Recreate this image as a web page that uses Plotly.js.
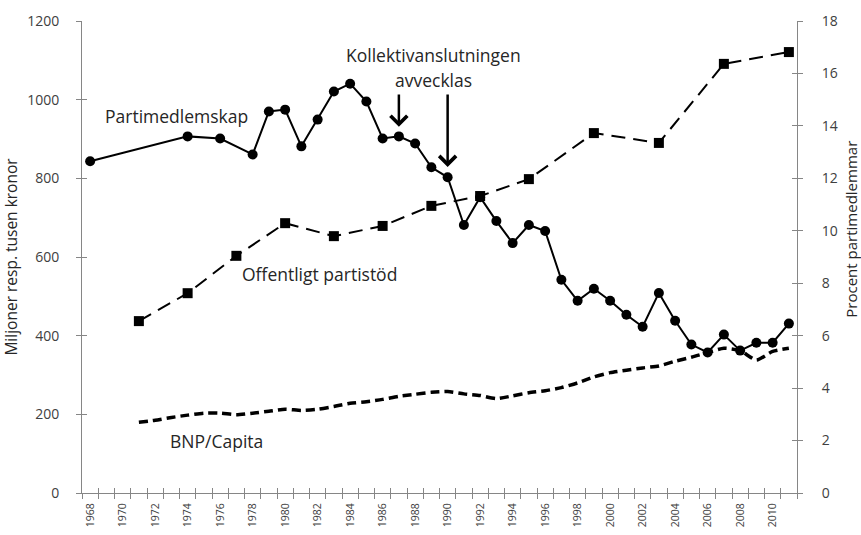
<!DOCTYPE html>
<html>
<head>
<meta charset="utf-8">
<script src="https://cdn.plot.ly/plotly-3.0.1.min.js"></script>
<style>html,body{margin:0;padding:0;background:#fff;}#chart{width:861px;height:535px;}</style>
</head>
<body>
<div id="chart"></div>
<script>
// Partimedlemskap (procent, höger axel)
const memberYears = [1968,1974,1976,1978,1979,1980,1981,1982,1983,1984,1985,1986,1987,1988,1989,1990,1991,1992,1993,1994,1995,1996,1997,1998,1999,2000,2001,2002,2003,2004,2005,2006,2007,2008,2009,2010,2011];
const memberPct = [12.65,13.6,13.52,12.91,14.55,14.62,13.22,14.24,15.31,15.61,14.93,13.52,13.6,13.33,12.42,12.04,10.22,11.28,10.37,9.53,10.22,9.99,8.13,7.33,7.79,7.33,6.8,6.34,7.63,6.57,5.66,5.36,6.04,5.43,5.73,5.73,6.46];

// Offentligt partistöd (miljoner kronor, vänster axel)
const supportYears = [1971,1974,1977,1980,1983,1986,1989,1992,1995,1999,2003,2007,2011];
const supportVals = [437,508,603,686,653,679,730,755,798,915,890,1091,1121];

// BNP/Capita (tusen kronor, vänster axel)
const gdpYears = [1971,1972,1973,1974,1975,1976,1977,1978,1979,1980,1981,1982,1983,1984,1985,1986,1987,1988,1989,1990,1991,1992,1993,1994,1995,1996,1997,1998,1999,2000,2001,2002,2003,2004,2005,2006,2007,2008,2009,2010,2011];
const gdpVals = [180,185,192,198,203,203,199,203,208,213,210,213,220,228,232,238,246,251,256,258,252,248,240,247,255,260,268,280,295,306,312,318,323,335,345,357,368,362,338,360,368];

// Axis ticks
const labelYears = [1968,1970,1972,1974,1976,1978,1980,1982,1984,1986,1988,1990,1992,1994,1996,1998,2000,2002,2004,2006,2008,2010];
const leftTicks = [0,200,400,600,800,1000,1200];
const rightTicks = [0,2,4,6,8,10,12,14,16,18];
const firstYear = 1968, lastYear = 2011;
const boundaries = [];
for (let y = firstYear; y <= lastYear + 1; y++) boundaries.push(y - 0.5);

const axisColor = '#868686';
const tickFont = {family: 'Open Sans, sans-serif', size: 14, color: '#404040'};
const txtFont = {family: 'Open Sans, sans-serif', size: 17.5, color: '#262626'};

const traces = [
  {x: gdpYears, y: gdpVals, yaxis: 'y', mode: 'lines', name: 'BNP/Capita',
   line: {color: '#000', width: 3.5, dash: '9px,5px', shape: 'spline', smoothing: 0.6}},
  {x: supportYears, y: supportVals, yaxis: 'y', mode: 'lines+markers', name: 'Offentligt partistöd',
   line: {color: '#000', width: 2, dash: '14px,8px'}, marker: {symbol: 'square', size: 10, color: '#000'}},
  {x: memberYears, y: memberPct, yaxis: 'y2', mode: 'lines+markers', name: 'Partimedlemskap',
   line: {color: '#000', width: 2}, marker: {symbol: 'circle', size: 10, color: '#000'}},
  {x: [null], y: [null], xaxis: 'x2', yaxis: 'y3', showlegend: false, hoverinfo: 'skip'},
  {x: [null], y: [null], xaxis: 'x2', yaxis: 'y4', showlegend: false, hoverinfo: 'skip'}
];

const xr = [firstYear - 0.5, lastYear + 0.5];

const layout = {
  width: 861, height: 535,
  margin: {l: 82, r: 64, t: 21, b: 42},
  paper_bgcolor: '#fff', plot_bgcolor: '#fff',
  showlegend: false,
  xaxis: {range: xr, tickvals: labelYears, ticktext: labelYears.map(String), tickangle: -90,
    ticks: 'outside', ticklen: 0, tickfont: {family: 'Open Sans, sans-serif', size: 10.5, color: '#404040'},
    showgrid: false, zeroline: false, showline: true, linecolor: axisColor, linewidth: 1,
    minor: {tickvals: boundaries, ticks: 'outside', ticklen: 5, tickcolor: axisColor, tickwidth: 1, showgrid: false},
    ticklabelstandoff: 5},
  xaxis2: {range: xr, overlaying: 'x', anchor: 'y3', tickvals: boundaries, ticks: 'inside', ticklen: 5,
    tickcolor: axisColor, showticklabels: false, showgrid: false, zeroline: false, showline: false},
  yaxis: {range: [0, 1200], tickvals: leftTicks, ticks: 'outside', ticklen: 5,
    tickcolor: axisColor, tickfont: tickFont, showgrid: false, zeroline: false, showline: true,
    linecolor: axisColor, ticklabelstandoff: 14,
    title: {text: 'Miljoner resp. tusen kronor', font: {family: 'Open Sans, sans-serif', size: 15.5, color: '#262626'}, standoff: 5}},
  yaxis2: {range: [0, 18], tickvals: rightTicks, overlaying: 'y', side: 'right', anchor: 'x',
    ticks: 'outside', ticklen: 5, tickcolor: axisColor, tickfont: tickFont, showgrid: false, zeroline: false,
    showline: true, linecolor: axisColor, ticklabelstandoff: 16},
  yaxis3: {range: [0, 1200], overlaying: 'y', side: 'left', anchor: 'x2', tickvals: leftTicks,
    ticks: 'inside', ticklen: 5, tickcolor: axisColor, showticklabels: false, showgrid: false, zeroline: false, showline: false},
  yaxis4: {range: [0, 18], overlaying: 'y', side: 'right', anchor: 'x2', tickvals: rightTicks,
    ticks: 'inside', ticklen: 5, tickcolor: axisColor, showticklabels: false, showgrid: false, zeroline: false, showline: false},
  annotations: [
    {xref: 'x', yref: 'y', x: 1968.8, y: 958, text: 'Partimedlemskap', showarrow: false, xanchor: 'left', yanchor: 'middle', font: txtFont},
    {xref: 'x', yref: 'y', x: 1977.2, y: 557, text: 'Offentligt partistöd', showarrow: false, xanchor: 'left', yanchor: 'middle', font: txtFont},
    {xref: 'x', yref: 'y', x: 1972.8, y: 132, text: 'BNP/Capita', showarrow: false, xanchor: 'left', yanchor: 'middle', font: txtFont},
    {xref: 'x', yref: 'y', x: 1989.1, y: 1114, text: 'Kollektivanslutningen', showarrow: false, xanchor: 'center', yanchor: 'middle', font: txtFont},
    {xref: 'x', yref: 'y', x: 1989.1, y: 1050, text: 'avvecklas', showarrow: false, xanchor: 'center', yanchor: 'middle', font: txtFont},
    {xref: 'x', yref: 'y', x: 1987, y: 931, axref: 'x', ayref: 'y', ax: 1987, ay: 1017, text: '', showarrow: true,
     arrowhead: 4, arrowsize: 1.3, arrowwidth: 2.5, arrowcolor: '#000', standoff: 0},
    {xref: 'x', yref: 'y', x: 1990, y: 829, axref: 'x', ayref: 'y', ax: 1990, ay: 1017, text: '', showarrow: true,
     arrowhead: 4, arrowsize: 1.3, arrowwidth: 2.5, arrowcolor: '#000', standoff: 0},
    {xref: 'paper', yref: 'paper', x: 1.0755, y: 0.56, text: 'Procent partimedlemmar', textangle: -90, showarrow: false,
     xanchor: 'center', yanchor: 'middle', font: {family: 'Open Sans, sans-serif', size: 15, color: '#262626'}}
  ]
};

Plotly.newPlot('chart', traces, layout, {displayModeBar: false, staticPlot: true});
</script>
</body>
</html>
